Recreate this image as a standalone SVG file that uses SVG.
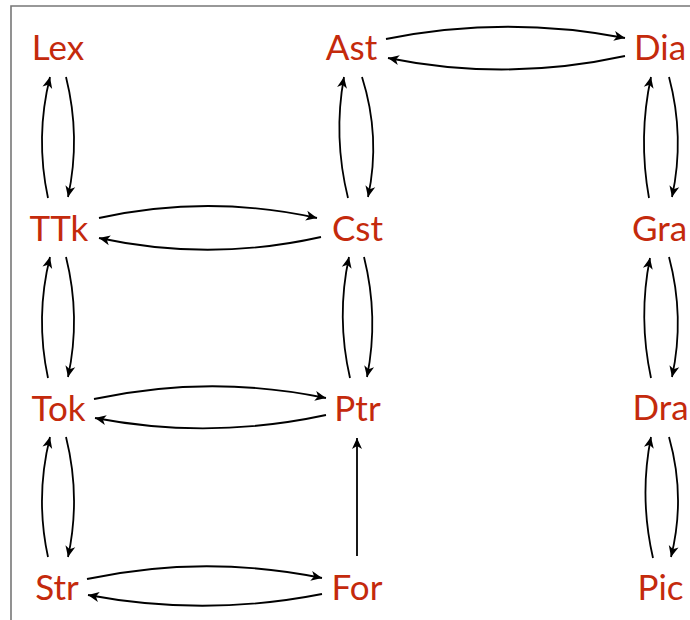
<svg xmlns="http://www.w3.org/2000/svg" width="690" height="620" viewBox="0 0 690 620">
<defs>
<marker id="ah" viewBox="-12 -6 13 12" refX="0" refY="0" markerWidth="13" markerHeight="12" markerUnits="userSpaceOnUse" orient="auto">
<path d="M-11,-5 L0,0 L-11,5 L-8,0 Z" fill="#000"/>
</marker>
<style>
.lbl{font-family:Lato,"Open Sans","Liberation Sans",sans-serif;font-size:35px;fill:#c42a0c;text-anchor:middle}
.c{fill:none;stroke:#000;stroke-width:1.8;marker-end:url(#ah)}
.frame{fill:none;stroke:#777;stroke-width:1.6}
</style>
</defs>
<rect width="690" height="620" fill="#fff"/>
<path class="frame" d="M11,620 V6 H690"/>
<g id="connectors">
<path class="c" d="M48,198 Q35,137 50,77"/>
<path class="c" d="M66,77 Q81,137 68,197"/>
<path class="c" d="M48,378 Q35,317 50,257"/>
<path class="c" d="M66,257 Q81,317 68,377"/>
<path class="c" d="M48,557 Q35,497 50,437"/>
<path class="c" d="M66,437 Q81,497 68,557"/>
<path class="c" d="M348,198 Q333,137 344,77"/>
<path class="c" d="M362,77 Q381,137 368,197"/>
<path class="c" d="M350,378 Q336,317 349,257"/>
<path class="c" d="M364,257 Q379,317 367,377"/>
<path class="c" d="M357,556 L357,438"/>
<path class="c" d="M649,198 Q638,137 651,77"/>
<path class="c" d="M669,77 Q685,137 672,197"/>
<path class="c" d="M651,378 Q638,317 650,258"/>
<path class="c" d="M669,257 Q685,317 672,377"/>
<path class="c" d="M653,558 Q639,497 651,437"/>
<path class="c" d="M669,437 Q686,497 671,557"/>
<path class="c" d="M386,39 Q505,15 625,38"/>
<path class="c" d="M625,56 Q506,82 388,58"/>
<path class="c" d="M99,218 Q208,194 317,218"/>
<path class="c" d="M321,237 Q210,262 99,238"/>
<path class="c" d="M94,399 Q210,374 326,398"/>
<path class="c" d="M326,415 Q210,440 95,418"/>
<path class="c" d="M87,579 Q204,554 322,578"/>
<path class="c" d="M322,594 Q205,617 88,595"/>
</g>
<g id="Lex"><text class="lbl" x="58" y="60">Lex</text></g>
<g id="Ast"><text class="lbl" x="351.5" y="60">Ast</text></g>
<g id="Dia"><text class="lbl" x="660" y="60">Dia</text></g>
<g id="TTk"><text class="lbl" x="59" y="241">TTk</text></g>
<g id="Cst"><text class="lbl" x="357.5" y="241">Cst</text></g>
<g id="Gra"><text class="lbl" x="659.5" y="241">Gra</text></g>
<g id="Tok"><text class="lbl" x="58.5" y="421">Tok</text></g>
<g id="Ptr"><text class="lbl" x="357.5" y="421">Ptr</text></g>
<g id="Dra"><text class="lbl" x="660.5" y="420">Dra</text></g>
<g id="Str"><text class="lbl" x="57" y="600">Str</text></g>
<g id="For"><text class="lbl" x="357" y="600">For</text></g>
<g id="Pic"><text class="lbl" x="660.5" y="600">Pic</text></g>
</svg>
